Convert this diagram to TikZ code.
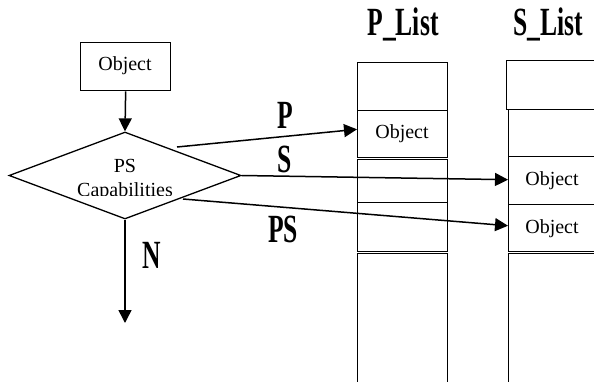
\documentclass[tikz,border=0pt]{standalone}
\usepackage{fontspec}
\setmainfont{Liberation Serif}
\usetikzlibrary{shapes.geometric,arrows.meta,calc}

% narrow heavy lettering for the list titles and branch labels
\newcommand\narrowtxt[1]{\scalebox{0.64}[1]{#1}}

\begin{document}
\begin{tikzpicture}[x=1pt,y=-1pt,
  box/.style={draw,line width=1.3pt,inner sep=0pt,anchor=north west},
  txt/.style={font=\fontsize{20}{24}\selectfont,inner sep=0pt,anchor=base},
  lbl/.style={font=\bfseries\fontsize{40}{42}\selectfont,inner sep=0pt,anchor=base},
  conn/.style={line width=1.5pt,-{Triangle[length=13pt,width=13pt]}}
]
\useasboundingbox (0,0) rectangle (594,381);

% input object and decision
\node[box,minimum width=90pt,minimum height=48pt] (obj) at (80,42) {};
\node[txt] (objtxt) at (125,70) {Object};
\node[draw,diamond,line width=1.3pt,minimum width=232pt,minimum height=87pt,inner sep=0pt] (dec) at (125,175.5) {};
\begin{scope}
  \clip (60,150) rectangle (190,195.5);
  \node[txt] (pstxt) at (125,172) {PS};
  \node[txt] (captxt) at (125,196) {Capabilities};
\end{scope}

% P_List column
\node[box,minimum width=90pt,minimum height=48pt] (pc1) at (357,62) {};
\node[box,minimum width=90pt,minimum height=47pt] (pc2) at (357,110) {};
\node[box,minimum width=90pt,minimum height=43pt] (pc3) at (357,159) {};
\node[box,minimum width=90pt,minimum height=49pt] (pc4) at (357,202) {};
\node[box,minimum width=90pt,minimum height=150pt] (pc5) at (357,253) {};
\node[txt] (pobj) at (402,138) {Object};

% S_List column
\node[box,minimum width=100pt,minimum height=49pt] (st) at (506,60) {};
\node[box,minimum width=100pt,minimum height=47pt] (sc1) at (508,109) {};
\node[box,minimum width=100pt,minimum height=48pt] (sc2) at (508,156) {};
\node[box,minimum width=100pt,minimum height=47pt] (sc3) at (508,204) {};
\node[box,minimum width=100pt,minimum height=150pt] (sc4) at (508,253) {};
\node[txt] (sobj1) at (552,185) {Object};
\node[txt] (sobj2) at (552,233) {Object};

% titles and branch labels
\node[lbl] (ptitle) at (403,35) {\narrowtxt{P\_List}};
\node[lbl] (stitle) at (548,35) {\narrowtxt{S\_List}};
\node[lbl] (lp) at (285,128) {\narrowtxt{P}};
\node[lbl] (ls) at (285,172) {\narrowtxt{S}};
\node[lbl] (lps) at (283,242) {\narrowtxt{PS}};
\node[lbl] (ln) at (152,268) {\narrowtxt{N}};

% connectors
\coordinate (pfrom) at (177,147);
\coordinate (psfrom) at (183,199);
\coordinate (nend) at (125,323);
\draw[conn] (obj.south) -- (dec.north);
\draw[conn] (dec.south) -- (nend);
\draw[conn] (pfrom) -- ($(pc2.north west)!0.4!(pc2.south west)$);
\draw[conn] (dec.east) -- ($(sc2.north west)!0.48!(sc2.south west)$);
\draw[conn] (psfrom) -- ($(sc3.north west)!0.45!(sc3.south west)$);
\end{tikzpicture}
\end{document}
